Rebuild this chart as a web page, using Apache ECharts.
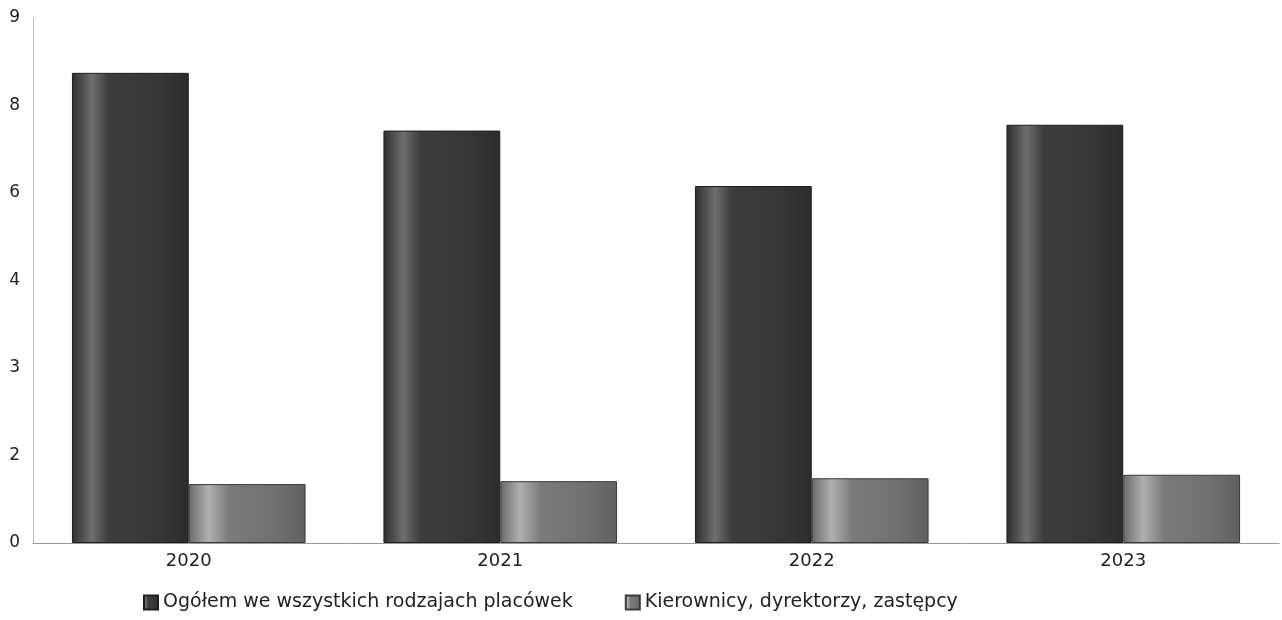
<!DOCTYPE html>
<html>
<head>
<meta charset="utf-8">
<script src="https://cdn.jsdelivr.net/npm/echarts@6/dist/echarts.min.js"></script>
<style>
  html, body { margin: 0; padding: 0; background: #fff; }
  #chart { width: 1282px; height: 620px; }
</style>
</head>
<body>
<div id="chart"></div>
<script>
// lata
const years = ['2020', '2021', '2022', '2023'];
// wartości
const ogolem = [8.06, 7.07, 6.12, 7.17];
const kierownicy = [1.01, 1.06, 1.11, 1.17];
// etykiety osi Y tak jak na oryginale (zaokrąglone 0,1.5,3,...)
const yTickLabels = ['0', '2', '3', '4', '6', '8', '9'];
const seriesNames = ['Ogółem we wszystkich rodzajach placówek', 'Kierownicy, dyrektorzy, zastępcy'];

const darkFill = new echarts.graphic.LinearGradient(0, 0, 1, 0, [
  { offset: 0, color: '#2e2e2e' },
  { offset: 0.17, color: '#6e6e6e' },
  { offset: 0.32, color: '#3c3c3c' },
  { offset: 0.75, color: '#363636' },
  { offset: 1, color: '#2c2c2c' }
]);
const lightFill = new echarts.graphic.LinearGradient(0, 0, 1, 0, [
  { offset: 0, color: '#6a6a6a' },
  { offset: 0.17, color: '#b0b0b0' },
  { offset: 0.35, color: '#7a7a7a' },
  { offset: 0.75, color: '#707070' },
  { offset: 1, color: '#606060' }
]);

let chart = echarts.init(document.getElementById('chart'));
let option = {
  animation: false,
  textStyle: { fontFamily: 'DejaVu Sans' },
  grid: { left: 33, right: 3, top: 18, bottom: 77 },
  legend: {
    bottom: 3,
    left: 138,
    itemWidth: 14,
    itemHeight: 14,
    itemGap: 52,
    icon: 'rect',
    textStyle: { fontSize: 19, color: '#222' },
    data: seriesNames
  },
  xAxis: {
    type: 'category',
    data: years,
    axisLine: { lineStyle: { color: '#999', width: 1 } },
    axisTick: { show: false },
    axisLabel: { fontSize: 18, color: '#222', margin: 9 }
  },
  yAxis: {
    type: 'value',
    min: 0,
    max: 9,
    interval: 1.5,
    axisLine: { show: true, lineStyle: { color: '#bbb' } },
    axisTick: { show: false },
    splitLine: { show: false },
    axisLabel: {
      fontSize: 17,
      color: '#222',
      margin: 13,
      formatter: function (v) { return yTickLabels[Math.round(v / 1.5)]; }
    }
  },
  series: [
    {
      name: seriesNames[0],
      type: 'bar',
      data: ogolem,
      barGap: '0%',
      barCategoryGap: '25%',
      itemStyle: { color: darkFill, borderColor: '#1e1e1e', borderWidth: 1 }
    },
    {
      name: seriesNames[1],
      type: 'bar',
      data: kierownicy,
      itemStyle: { color: lightFill, borderColor: '#3a3a3a', borderWidth: 1 }
    }
  ]
};
chart.setOption(option);
</script>
</body>
</html>
